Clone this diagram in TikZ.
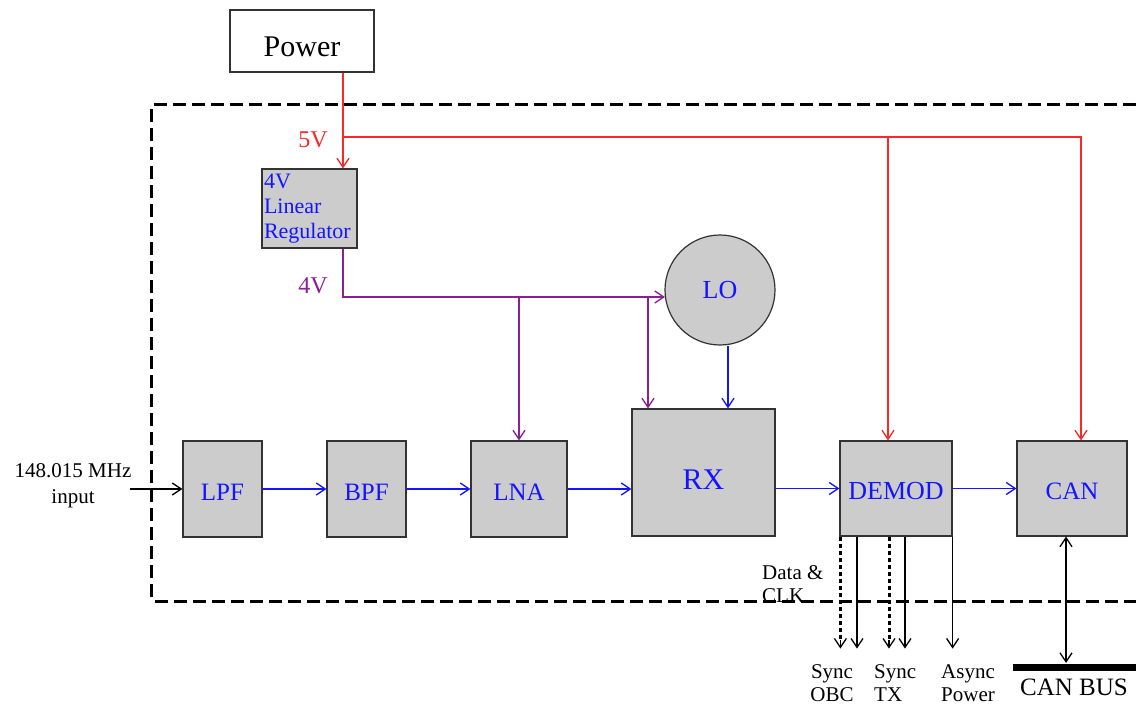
\documentclass[tikz,border=0pt]{standalone}
\usepackage{fontspec}
\setmainfont{Liberation Serif}
\usetikzlibrary{arrows.meta,calc}
\definecolor{myred}{RGB}{250,40,40}
\definecolor{mypurple}{RGB}{140,30,150}
\definecolor{myblue}{RGB}{20,20,255}
\definecolor{boxgray}{RGB}{204,204,204}
\newcommand{\myfs}[2]{\fontsize{#1}{#2}\selectfont}
\begin{document}
\begin{tikzpicture}[x=1pt,y=-1pt,
  barb/.tip={Straight Barb[length=9pt,width=12pt]},
  blk/.style={draw=black!80, fill=boxgray, line width=1.2pt, inner sep=0pt, text=myblue, font=\myfs{25}{30}},
  lowtxt/.style={text height=22pt, text depth=0pt},
  pwr/.style={draw=black!80, fill=white, line width=1.2pt, inner sep=0pt, font=\myfs{30}{36}, minimum width=144pt, minimum height=62pt, text height=31pt, text depth=0pt},
  conn/.style={line width=1.3pt, -barb},
  redc/.style={conn, draw=myred},
  purc/.style={conn, draw=mypurple},
  bluc/.style={conn, draw=myblue},
  blkc/.style={conn, draw=black},
  dotc/.style={draw=black, line width=3pt, dash pattern=on 4pt off 3pt},
  frame/.style={line width=3pt, dash pattern=on 13pt off 6pt, rounded corners=3pt},
  lbl/.style={font=\myfs{21}{23}, align=left, inner sep=0pt}
]
\useasboundingbox (0,0) rectangle (1136,706);

% system boundary
\draw[frame] (1136,105) -- (151,105) -- (151,601) -- (1136,601);

% nodes
\node[pwr] (power) at (302,41) {Power};
\node[blk, minimum width=95pt, minimum height=79pt, text width=91pt, align=left, font=\myfs{22}{25}] (reg) at (309.5,208.5) {4V\\Linear\\Regulator};
\node[blk, circle, minimum size=110pt, font=\myfs{26}{30}] (lo) at (720,290) {LO};
\node[blk, lowtxt, minimum width=79pt, minimum height=96pt] (lpf) at (222.5,489) {LPF};
\node[blk, lowtxt, minimum width=79pt, minimum height=96pt] (bpf) at (366.5,489) {BPF};
\node[blk, lowtxt, minimum width=96pt, minimum height=96pt] (lna) at (519,489) {LNA};
\node[blk, minimum width=143pt, minimum height=127pt, font=\myfs{30}{36}, text height=33pt, text depth=0pt] (rx) at (703.5,472.5) {RX};
\node[blk, lowtxt, minimum width=112pt, minimum height=95pt, font=\myfs{26}{30}] (demod) at (896,488.5) {DEMOD};
\node[blk, lowtxt, minimum width=110pt, minimum height=95pt] (can) at (1072,488.5) {CAN};

\node[text=myred, font=\myfs{24}{28}, inner sep=0pt] (v5) at (313,140) {5V};
\node[text=mypurple, font=\myfs{24}{28}, inner sep=0pt] (v4) at (313,286) {4V};

\node[font=\myfs{21}{26}, align=center, inner sep=0pt] (inlbl) at (73,486) {148.015 MHz\\input};
\node[lbl, anchor=west] (dclk) at (762,584) {Data \&\\CLK};
\node[lbl, align=center] (sobc) at (832,683) {Sync\\OBC};
\node[lbl, anchor=west] (stx) at (874,683) {Sync\\TX};
\node[lbl, align=center] (apow) at (968,683) {Async\\Power};
\node[font=\myfs{25}{30}, inner sep=0pt] (canbus) at (1074,687) {CAN BUS};

% coordinates
\coordinate (j5) at (343,137);
\coordinate (j4) at (343,297);
\coordinate (k) at (648,297);
\coordinate (in) at (130,489);
\coordinate (busL) at (1013,667);
\coordinate (busR) at (1136,667);
\coordinate (dm) at ($(demod.north)+(-8,0)$);
\coordinate (cn) at ($(can.north)+(9,0)$);
\coordinate (d1) at ($(demod.south west)+(1,0)$);
\coordinate (d2) at ($(demod.south)+(-7,0)$);

% 5V distribution
\draw[redc] (power.south -| j5) -- (reg.north -| j5);
\draw[redc] (j5) -| (cn);
\draw[redc] (j5 -| dm) -- (dm);

% 4V distribution
\draw[purc] (reg.south -| j4) -- (j4) -- (j4 -| lo.188);
\draw[purc] (j4 -| lna.north) -- (lna.north);
\draw[purc] (k) -- (k |- rx.north);

% LO to RX
\draw[bluc] ($(lo.south)+(8,0)$) -- ($(lo.south |- rx.north)+(8,0)$);

% signal chain
\draw[blkc] (in) -- (lpf.west);
\draw[bluc] (lpf.east) -- (bpf.west);
\draw[bluc] (bpf.east) -- (lna.west);
\draw[bluc] (lna.east) -- (lna.east -| rx.west);
\draw[bluc] (demod.west -| rx.east) -- (demod.west);
\draw[bluc] (demod.east) -- (can.west);

% DEMOD outputs
\draw[dotc] (d1) -- ++(0,104);
\draw[blkc] ($(d1)+(0,103)$) -- ++(0,9);
\draw[blkc] ($(demod.south)+(-39,0)$) -- ++(0,112);
\draw[dotc] (d2) -- ++(0,104);
\draw[blkc] ($(d2)+(0,103)$) -- ++(0,9);
\draw[blkc] ($(demod.south)+(9,0)$) -- ++(0,112);
\draw[blkc] (demod.south east) -- ++(0,112);

% CAN bus
\draw[line width=7pt] (busL) -- (busR);
\draw[line width=1.3pt, barb-barb] ($(can.south)+(-6,0)$) -- ($(can.south |- busL)+(-6,-4)$);
\end{tikzpicture}
\end{document}
